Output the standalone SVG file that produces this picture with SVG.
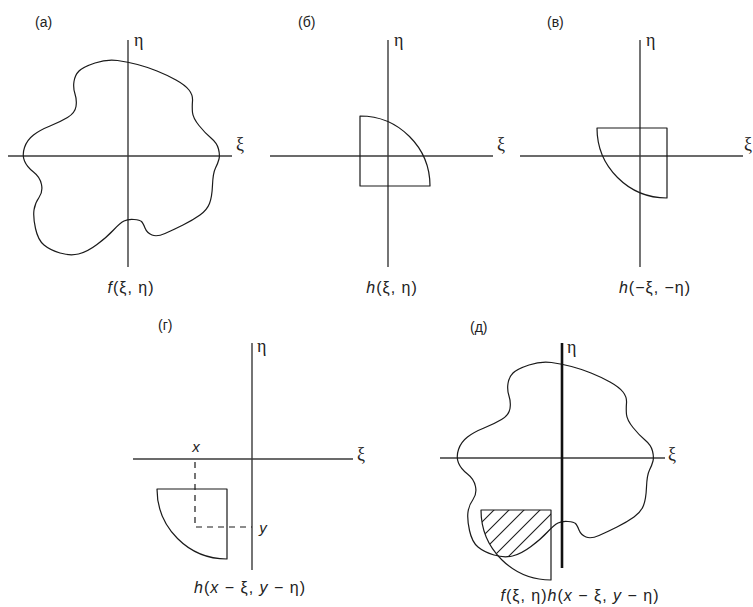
<svg xmlns="http://www.w3.org/2000/svg" xmlns:xlink="http://www.w3.org/1999/xlink" width="753" height="607" viewBox="0 0 753 607">
<style>
.axis{stroke:#3a3a3a;stroke-width:1.4;fill:none}
.axisb{stroke:#111;stroke-width:2.6;fill:none}
.shape{stroke:#1a1a1a;stroke-width:1.2;fill:none;stroke-linejoin:round}
.dash{stroke:#1a1a1a;stroke-width:1.2;fill:none;stroke-dasharray:6 5}
.hatch{stroke:#1a1a1a;stroke-width:1.1}
.tag{font-family:"Liberation Sans",Arial,sans-serif;font-size:14px;fill:#222}
.gr{font-family:"Liberation Serif","DejaVu Serif",serif;font-size:18px;fill:#222}
.lab{font-family:"Liberation Sans",Arial,sans-serif;font-size:16px;letter-spacing:1px;fill:#222;text-anchor:middle}
.it{font-style:italic}
</style>
<defs>
<path id="blob" d="M9.5,-91.5 Q0,-94 -10.5,-95.5 Q-21,-97 -33,-93 Q-45,-89 -49,-85 Q-53,-81 -54,-74.5 Q-55,-68 -53,-62 Q-51,-56 -52,-49.5 Q-53,-43 -60.5,-38.5 Q-68,-34 -78,-30 Q-88,-26 -94.5,-21 Q-101,-16 -103.5,-8.5 Q-106,-1 -103.5,5 Q-101,11 -94.5,16 Q-88,21 -86.5,28.5 Q-85,36 -89,41.5 Q-93,47 -94,54 Q-95,61 -92.5,72.5 Q-90,84 -84,89 Q-78,94 -68,97 Q-58,100 -49.5,98 Q-41,96 -31,88.5 Q-21,81 -14.5,74 Q-8,67 -4,65 Q0,63 6,63.5 Q12,64 13.5,65.5 Q15,67 17,72 Q19,77 24,79 Q29,81 37,77.5 Q45,74 55,69 Q65,64 72,59 Q79,54 81.5,47.5 Q84,41 84.5,29 Q85,17 87.5,12 Q90,7 91,3 Q92,-1 90.5,-7 Q89,-13 83,-18 Q77,-23 71,-30.5 Q65,-38 64.5,-43.5 Q64,-49 64.5,-55 Q65,-61 61,-66 Q57,-71 48,-76 Q39,-81 29,-85 Q19,-89 9.5,-91.5 Z"/>
<clipPath id="blobClip"><use xlink:href="#blob" href="#blob" transform="translate(562,458)"/></clipPath>
<clipPath id="discClip"><path d="M551,510 L481,510 A70,70 0 0 0 551,580 Z"/></clipPath>
</defs>

<g id="panel-a">
<text class="tag" x="35" y="27">(a)</text>
<line class="axis" x1="8" y1="156" x2="232" y2="156"/>
<line class="axis" x1="128" y1="40" x2="128" y2="267"/>
<text class="gr" x="134" y="46">η</text>
<text class="gr" x="236" y="150">ξ</text>
<use class="shape" xlink:href="#blob" href="#blob" transform="translate(128,156)"/>
<text class="lab" x="131" y="293"><tspan class="it">f</tspan>(ξ, η)</text>
</g>

<g id="panel-b">
<text class="tag" x="298" y="27">(б)</text>
<line class="axis" x1="270" y1="156" x2="493" y2="156"/>
<line class="axis" x1="388" y1="40" x2="388" y2="267"/>
<text class="gr" x="394" y="46">η</text>
<text class="gr" x="497" y="150">ξ</text>
<path class="shape" d="M360,116 A70,70 0 0 1 430,186 L360,186 Z"/>
<text class="lab" x="392" y="293"><tspan class="it">h</tspan>(ξ, η)</text>
</g>

<g id="panel-c">
<text class="tag" x="547" y="27">(в)</text>
<line class="axis" x1="520" y1="156" x2="743" y2="156"/>
<line class="axis" x1="640" y1="40" x2="640" y2="267"/>
<text class="gr" x="646" y="46">η</text>
<text class="gr" x="744" y="150">ξ</text>
<path class="shape" d="M667,128 L597,128 A70,70 0 0 0 667,198 Z"/>
<text class="lab" x="655" y="293"><tspan class="it">h</tspan>(−ξ, −η)</text>
</g>

<g id="panel-d">
<text class="tag" x="158" y="330">(г)</text>
<line class="axis" x1="133" y1="459" x2="353" y2="459"/>
<line class="axis" x1="252" y1="343" x2="252" y2="570"/>
<text class="gr" x="257" y="352">η</text>
<text class="gr" x="357" y="460">ξ</text>
<text class="lab it" x="196" y="452" style="font-size:15px;letter-spacing:0">x</text>
<text class="lab it" x="263" y="533" style="font-size:15px;letter-spacing:0">y</text>
<path class="dash" d="M195,462 L195,527 L252,527"/>
<path class="shape" d="M227,489 L157,489 A70,70 0 0 0 227,559 Z"/>
<text class="lab" x="250" y="593"><tspan class="it">h</tspan>(<tspan class="it">x</tspan> − ξ, <tspan class="it">y</tspan> − η)</text>
</g>

<g id="panel-e">
<text class="tag" x="470" y="332">(д)</text>
<line class="axis" x1="440" y1="458" x2="665" y2="458"/>
<text class="gr" x="567" y="353">η</text>
<text class="gr" x="668" y="460">ξ</text>
<use class="shape" xlink:href="#blob" href="#blob" transform="translate(562,458)"/>
<g clip-path="url(#blobClip)"><g clip-path="url(#discClip)">
<line class="hatch" x1="470" y1="534" x2="560" y2="444"/>
<line class="hatch" x1="470" y1="549" x2="560" y2="459"/>
<line class="hatch" x1="470" y1="564" x2="560" y2="474"/>
<line class="hatch" x1="470" y1="580" x2="560" y2="490"/>
<line class="hatch" x1="470" y1="595" x2="560" y2="505"/>
<line class="hatch" x1="470" y1="610" x2="560" y2="520"/>
</g></g>
<path class="shape" d="M551,510 L481,510 A70,70 0 0 0 551,580 Z"/>
<line class="axisb" x1="562" y1="343" x2="562" y2="568"/>
<text class="lab" x="580" y="601"><tspan class="it">f</tspan>(ξ, η)<tspan class="it">h</tspan>(<tspan class="it">x</tspan> − ξ, <tspan class="it">y</tspan> − η)</text>
</g>
</svg>
